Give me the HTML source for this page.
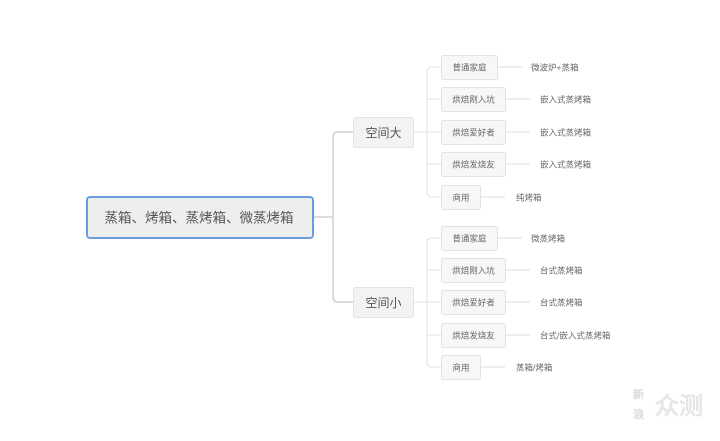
<!DOCTYPE html>
<html><head><meta charset="utf-8"><style>
html,body{margin:0;padding:0;background:#fff;}
svg text{font-family:"Liberation Sans","Noto Sans CJK SC",sans-serif;}
</style></head><body>
<svg width="720" height="436" viewBox="0 0 720 436" xmlns="http://www.w3.org/2000/svg">
<g fill="none" stroke="#d0d0d0" stroke-width="1.5">
<path d="M313 217 H333"/>
<path d="M353 132 H338 Q333 132 333 137 V297 Q333 302 338 302 H353"/>
</g>
<g fill="none" stroke="#e2e2e2" stroke-width="1">
<path d="M413 132 H427"/>
<path d="M441 67 H432 Q427 67 427 72 V192 Q427 197 432 197 H441"/>
<path d="M427 99 H441 M427 132 H441 M427 164 H441"/>
<path d="M413 302 H427"/>
<path d="M441 238 H432 Q427 238 427 243 V362 Q427 367 432 367 H441"/>
<path d="M427 270 H441 M427 302 H441 M427 335 H441"/>
</g>
<rect x="87" y="197" width="226" height="41" rx="3" fill="#eeeeee" stroke="#6a9de0" stroke-width="2"/>
<text x="199" y="222.5" font-size="13.5" fill="#555" text-anchor="middle">蒸箱、烤箱、蒸烤箱、微蒸烤箱</text>
<rect x="353.5" y="117.5" width="60" height="30" rx="2" fill="#f3f3f3" stroke="#e3e3e3"/>
<text x="383.5" y="137" font-size="12" fill="#555" text-anchor="middle">空间大</text>
<rect x="353.5" y="287.5" width="60" height="30" rx="2" fill="#f3f3f3" stroke="#e3e3e3"/>
<text x="383.5" y="307" font-size="12" fill="#555" text-anchor="middle">空间小</text>
<g font-size="8.5" fill="#666" stroke-width="1">
<rect x="441.5" y="55.5" width="56" height="24" rx="2" fill="#f7f7f7" stroke="#e3e3e3"/><text x="469.5" y="70.5" text-anchor="middle">普通家庭</text>
<path d="M497 67 H522" stroke="#ddd"/><text x="531" y="70.5">微波炉+蒸箱</text>
<rect x="441.5" y="87.5" width="64" height="24" rx="2" fill="#f7f7f7" stroke="#e3e3e3"/><text x="473.5" y="102.5" text-anchor="middle">烘焙刚入坑</text>
<path d="M505 99 H530" stroke="#ddd"/><text x="540" y="102.5">嵌入式蒸烤箱</text>
<rect x="441.5" y="120.5" width="64" height="24" rx="2" fill="#f7f7f7" stroke="#e3e3e3"/><text x="473.5" y="135.5" text-anchor="middle">烘焙爱好者</text>
<path d="M505 132 H530" stroke="#ddd"/><text x="540" y="135.5">嵌入式蒸烤箱</text>
<rect x="441.5" y="152.5" width="64" height="24" rx="2" fill="#f7f7f7" stroke="#e3e3e3"/><text x="473.5" y="167.5" text-anchor="middle">烘焙发烧友</text>
<path d="M505 164 H530" stroke="#ddd"/><text x="540" y="167.5">嵌入式蒸烤箱</text>
<rect x="441.5" y="185.5" width="39" height="24" rx="2" fill="#f7f7f7" stroke="#e3e3e3"/><text x="461" y="200.5" text-anchor="middle">商用</text>
<path d="M480 197 H505" stroke="#ddd"/><text x="516" y="200.5">纯烤箱</text>
<rect x="441.5" y="226.5" width="56" height="24" rx="2" fill="#f7f7f7" stroke="#e3e3e3"/><text x="469.5" y="241.5" text-anchor="middle">普通家庭</text>
<path d="M497 238 H522" stroke="#ddd"/><text x="531" y="241.5">微蒸烤箱</text>
<rect x="441.5" y="258.5" width="64" height="24" rx="2" fill="#f7f7f7" stroke="#e3e3e3"/><text x="473.5" y="273.5" text-anchor="middle">烘焙刚入坑</text>
<path d="M505 270 H530" stroke="#ddd"/><text x="540" y="273.5">台式蒸烤箱</text>
<rect x="441.5" y="290.5" width="64" height="24" rx="2" fill="#f7f7f7" stroke="#e3e3e3"/><text x="473.5" y="305.5" text-anchor="middle">烘焙爱好者</text>
<path d="M505 302 H530" stroke="#ddd"/><text x="540" y="305.5">台式蒸烤箱</text>
<rect x="441.5" y="323.5" width="64" height="24" rx="2" fill="#f7f7f7" stroke="#e3e3e3"/><text x="473.5" y="338.5" text-anchor="middle">烘焙发烧友</text>
<path d="M505 335 H530" stroke="#ddd"/><text x="540" y="338.5">台式/嵌入式蒸烤箱</text>
<rect x="441.5" y="355.5" width="39" height="24" rx="2" fill="#f7f7f7" stroke="#e3e3e3"/><text x="461" y="370.5" text-anchor="middle">商用</text>
<path d="M480 367 H505" stroke="#ddd"/><text x="516" y="370.5">蒸箱/烤箱</text>
</g>
<g fill="#ececec" stroke="#dcdcdc" stroke-width="0.6">
<text x="633" y="398" font-size="11">新</text>
<text x="633" y="418" font-size="11">浪</text>
<text x="655" y="414" font-size="24">众测</text>
</g>
</svg>
</body></html>
